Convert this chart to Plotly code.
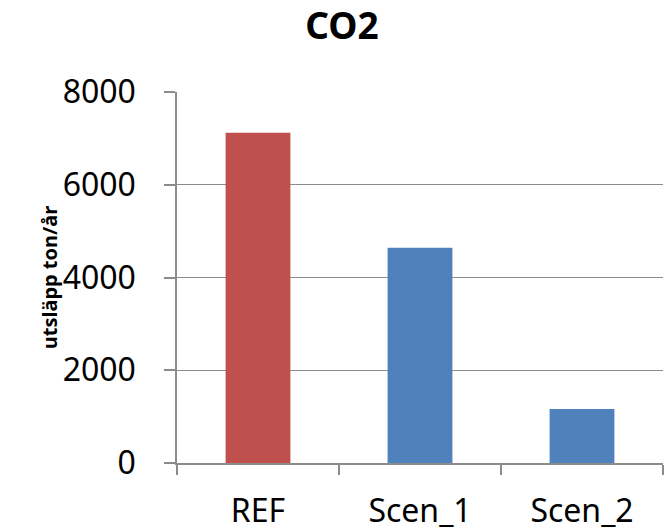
import plotly.graph_objects as go

categories = ["REF", "Scen_1", "Scen_2"]
values = [7120, 4640, 1165]
colors = ["#C0504D", "#4F81BD", "#4F81BD"]
y_ticks = [0, 2000, 4000, 6000, 8000]

fig = go.Figure(
    go.Bar(x=categories, y=values, marker=dict(color=colors, line=dict(width=0)))
)

grid = "#8C8C8C"
fig.update_layout(
    width=664,
    height=530,
    margin=dict(l=177, r=1, t=92, b=67),
    paper_bgcolor="white",
    plot_bgcolor="white",
    bargap=0.6,
    showlegend=False,
    font=dict(family="Noto Sans", color="black", size=32),
    title=dict(
        text="<b>CO2</b>",
        x=342 / 664,
        xanchor="center",
        y=1 - 26 / 530,
        yanchor="middle",
        font=dict(family="Noto Sans", size=37, color="black"),
        automargin=False,
    ),
)
fig.update_xaxes(
    automargin=False,
    showline=True,
    linecolor=grid,
    linewidth=1.5,
    ticks="outside",
    tickson="boundaries",
    ticklen=10,
    tickcolor=grid,
    tickwidth=1.5,
    showgrid=False,
    tickfont=dict(size=32, color="black"),
    ticklabelstandoff=19,
)
fig.update_yaxes(
    automargin=False,
    range=[0, 8000],
    tickvals=y_ticks,
    ticktext=[str(v) for v in y_ticks],
    showline=True,
    linecolor=grid,
    linewidth=1.5,
    ticks="outside",
    ticklen=11,
    tickcolor=grid,
    tickwidth=1.5,
    showgrid=True,
    gridcolor=grid,
    gridwidth=1.2,
    zeroline=False,
    tickfont=dict(size=32, color="black"),
    ticklabelstandoff=22,
    title=dict(
        text="<b>utsläpp ton/år</b>",
        font=dict(size=20, color="black"),
        standoff=0,
    ),
)

fig.write_html(
    "out.html",
    config={"displayModeBar": False},
    post_script="document.body.style.margin='0';document.body.style.overflow='hidden';",
)
